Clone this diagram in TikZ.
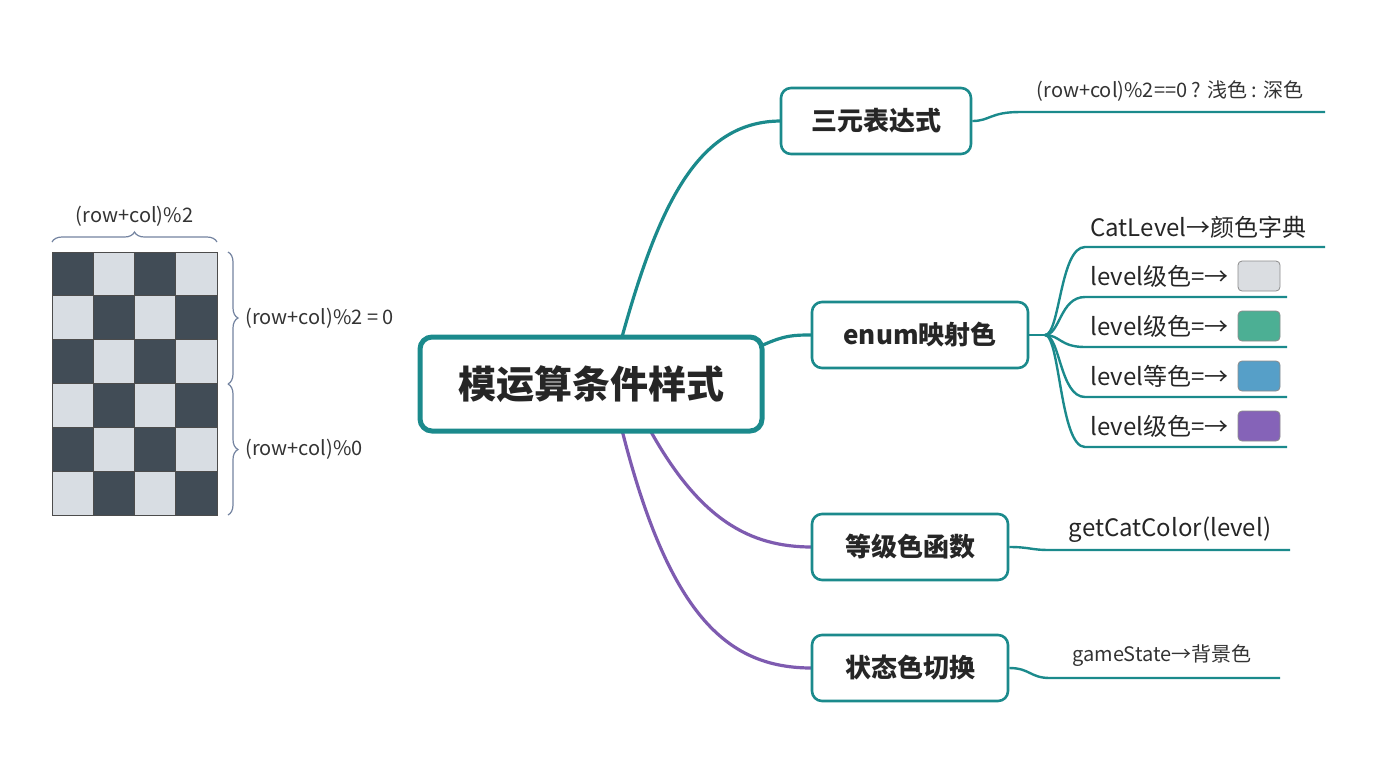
\documentclass[tikz,border=0pt]{standalone}
\usepackage{fontspec}
\setmainfont{Noto Sans CJK SC}
\usetikzlibrary{calc}
\usetikzlibrary{decorations.pathreplacing}

\definecolor{teal1}{HTML}{1B8A8C}
\definecolor{purp1}{HTML}{7E5BB0}
\definecolor{cellD}{HTML}{414C56}
\definecolor{cellL}{HTML}{D8DDE3}
\definecolor{brc}{HTML}{7383A0}
\definecolor{sw1}{HTML}{DADDE1}
\definecolor{sw2}{HTML}{4CAF94}
\definecolor{sw3}{HTML}{569FC8}
\definecolor{sw4}{HTML}{8563B8}

\tikzset{
  rootbox/.style={draw=teal1, line width=2.5pt, rounded corners=6pt, fill=white, minimum width=171pt, minimum height=47pt, font=\fontsize{19}{22}\selectfont\bfseries, text=black!85},
  branch/.style={draw=teal1, line width=1.3pt, rounded corners=5pt, fill=white, minimum height=33pt, font=\fontsize{13}{16}\selectfont\bfseries, text=black!85},
  tline/.style={teal1, line width=1.2pt},
  pline/.style={purp1, line width=1.2pt},
  leaf/.style={font=\fontsize{12}{14}\selectfont, text=black!85, inner sep=1pt},
  small/.style={font=\fontsize{10}{12}\selectfont, text=black!80},
  swatch/.style={draw=black!45, line width=0.4pt, rounded corners=2pt, minimum width=21pt, minimum height=15pt}
}

\begin{document}
\begin{tikzpicture}[x=0.5pt,y=-0.5pt]
\useasboundingbox (0,0) rectangle (1376,768);

% checker board
\foreach \r in {0,...,5}
\foreach \c in {0,...,3}
{
  \pgfmathparse{mod(\r+\c,2)==0 ? "cellD" : "cellL"}
  \edef\cellcol{\pgfmathresult}
  \draw[black!70, line width=0.4pt, fill=\cellcol] ($(52,252)+(\c*41.25,\r*43.83)$) rectangle ++(41.25,43.83);
}
\draw[brc, line width=0.6pt, decorate, decoration={brace, amplitude=5pt}] (52,242) -- (217,242) node[midway, above=4pt, small, text=black!80] {(row+col)\%2};
\draw[brc, line width=0.6pt, decorate, decoration={brace, amplitude=5pt}] (228,252) -- (228,384) node[midway, right=5pt, small] {(row+col)\%2 = 0};
\draw[brc, line width=0.6pt, decorate, decoration={brace, amplitude=5pt}] (228,384) -- (228,515) node[midway, right=5pt, small] {(row+col)\%0};

% connectors
\draw[tline, line width=1.6pt] (622,337) .. controls (660,200) and (700,121) .. (781,121);
\draw[tline, line width=1.6pt] (763,345) .. controls (785,335) and (795,335) .. (811,335);
\draw[pline, line width=1.6pt] (650,430) .. controls (700,520) and (750,547) .. (812,547);
\draw[pline, line width=1.6pt] (622,430) .. controls (670,620) and (730,668) .. (812,668);

% nodes
\node[rootbox] (root) at (591,384) {模运算条件样式};
\node[branch, minimum width=95pt] (ternary) at (876,121) {三元表达式};
\node[branch, minimum width=108pt] (enumc) at (920,335) {enum映射色};
\node[branch, minimum width=98pt] (gradef) at (910,547) {等级色函数};
\node[branch, minimum width=98pt] (statec) at (910,668) {状态色切换};

% leaves
\draw[tline] (ternary.east) .. controls (990,121) and (990,112) .. (1020,112) -- (1325,112);
\node[small, anchor=south] (tern) at (1170,108) {(row+col)\%2==0 ? 浅色 : 深色};

\coordinate (hub) at (1045,335);
\draw[tline] (enumc.east) -- (hub);
\foreach \y/\e in {247/1325, 297/1287, 347/1287, 397/1287, 447/1287}
  \draw[tline] (hub) .. controls (1060,335) and (1060,\y) .. (1085,\y) -- (\e,\y);
\node[leaf, anchor=west] (catlv) at (1088,227) {CatLevel→颜色字典};
\foreach \y/\t/\s in {276/级/sw1, 326/级/sw2, 376/等/sw3, 426/级/sw4}
{
  \node[leaf, anchor=west] at (1088,\y) {level\t 色=→};
  \node[swatch, fill=\s] at (1259,\y) {};
}

\draw[tline] (gradef.east) .. controls (1030,547) and (1030,550) .. (1050,550) -- (1290,550);
\node[leaf, anchor=south] (getc) at (1170,545) {getCatColor(level)};
\draw[tline] (statec.east) .. controls (1030,668) and (1030,678) .. (1050,678) -- (1280,678);
\node[small, anchor=south] (gst) at (1162,674) {gameState→背景色};
\end{tikzpicture}
\end{document}
